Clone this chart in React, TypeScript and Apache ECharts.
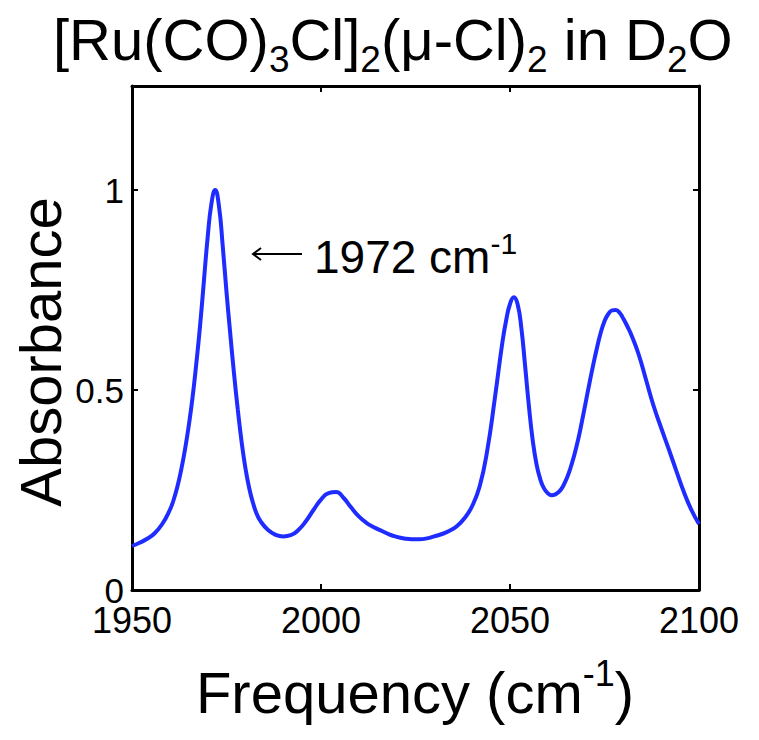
import React, { useEffect, useRef } from "react";
import * as echarts from "echarts";

// IR spectrum of the ruthenium carbonyl dimer in heavy water
const frequency = [
  1950, 1952, 1954, 1956, 1958, 1960, 1961, 1962, 1963, 1964, 1965, 1966, 1967, 1968, 1969, 1970, 1971,
  1972, 1973, 1974, 1975, 1976, 1977, 1978, 1979, 1980, 1981, 1982, 1983, 1984, 1986, 1988, 1990, 1992,
  1994, 1996, 1998, 2000, 2002, 2004, 2006, 2008, 2010, 2012, 2014, 2016, 2018, 2020, 2022, 2024, 2026,
  2028, 2030, 2032, 2034, 2036, 2038, 2040, 2042, 2044, 2046, 2048, 2049, 2050, 2051, 2052, 2053, 2054,
  2055, 2056, 2057, 2058, 2059, 2060, 2061, 2062, 2063, 2064, 2065, 2066, 2067, 2068, 2069, 2070, 2071,
  2072, 2073, 2074, 2075, 2076, 2077, 2078, 2079, 2080, 2081, 2082, 2084, 2086, 2088, 2090, 2092, 2094,
  2096, 2098, 2100,
];
const absorbance = [
  0.11, 0.118, 0.128, 0.142, 0.165, 0.2, 0.225, 0.258, 0.3, 0.35, 0.41, 0.48, 0.565, 0.66, 0.77, 0.88,
  0.965, 1.0, 0.96, 0.86, 0.745, 0.64, 0.54, 0.45, 0.37, 0.305, 0.255, 0.218, 0.19, 0.172, 0.15, 0.138,
  0.134, 0.137, 0.15, 0.172, 0.2, 0.226, 0.242, 0.245, 0.23, 0.206, 0.184, 0.168, 0.157, 0.148, 0.139,
  0.133, 0.129, 0.127, 0.127, 0.129, 0.134, 0.14, 0.148, 0.16, 0.18, 0.21, 0.26, 0.35, 0.48, 0.62, 0.675,
  0.715, 0.732, 0.715, 0.655, 0.56, 0.46, 0.375, 0.315, 0.277, 0.254, 0.242, 0.237, 0.239, 0.246, 0.259,
  0.279, 0.305, 0.337, 0.375, 0.42, 0.468, 0.516, 0.562, 0.605, 0.643, 0.672, 0.69, 0.699, 0.7, 0.693,
  0.678, 0.66, 0.64, 0.59, 0.525, 0.46, 0.405, 0.352, 0.298, 0.245, 0.2, 0.165,
];
const yTickValues = [0, 0.5, 1];
const peakLabel = "1972";

const FONT = "'Liberation Sans', Arial, Helvetica, sans-serif";

export default function App() {
  const ref = useRef<HTMLDivElement>(null);

  useEffect(() => {
    if (!ref.current) return;
    const chart = echarts.init(ref.current, null, { renderer: "svg" });

    const axisLine = { show: true, onZero: false, lineStyle: { color: "#000", width: 3 } };
    const axisTick = { show: true, inside: true, length: 6, lineStyle: { color: "#000", width: 2 } };

    const option = {
      animation: false,
      backgroundColor: "#fff",
      grid: { left: 132, right: 60, top: 86, bottom: 150, containLabel: false },
      xAxis: [
        {
          type: "value",
          position: "bottom",
          min: 1950,
          max: 2100,
          interval: 50,
          axisLine,
          axisTick,
          splitLine: { show: false },
          axisLabel: {
            color: "#000",
            fontSize: 36,
            fontFamily: FONT,
            margin: 12,
            formatter: (v: number) => String(v),
          },
        },
        {
          type: "value",
          position: "top",
          min: 1950,
          max: 2100,
          interval: 50,
          axisLine,
          axisTick,
          splitLine: { show: false },
          axisLabel: { show: false },
        },
      ],
      yAxis: [
        {
          type: "value",
          position: "left",
          min: 0,
          max: 1.26,
          interval: 0.5,
          axisLine,
          axisTick,
          splitLine: { show: false },
          axisLabel: {
            color: "#000",
            fontSize: 35,
            fontFamily: FONT,
            margin: 8,
            showMaxLabel: false,
            formatter: (v: number) => (yTickValues.includes(v) ? String(v) : ""),
          },
        },
        {
          type: "value",
          position: "right",
          min: 0,
          max: 1.26,
          interval: 0.5,
          axisLine,
          axisTick,
          splitLine: { show: false },
          axisLabel: { show: false },
        },
      ],
      series: [
        {
          type: "line",
          xAxisIndex: 0,
          yAxisIndex: 0,
          data: frequency.map((f, i) => [f, absorbance[i]]),
          showSymbol: false,
          smooth: 0.5,
          lineStyle: { color: "#1f2cff", width: 4 },
          itemStyle: { color: "#1f2cff" },
        },
      ],
      graphic: [
        {
          type: "text",
          silent: true,
          style: {
            x: 53,
            y: 39,
            align: "left",
            verticalAlign: "middle",
            text: "{n|[Ru(CO)}{s|3}{n|Cl]}{s|2}{n|(μ-Cl)}{s|2}{n| in D}{s|2}{n|O}",
            fill: "#000",
            rich: {
              n: { fontSize: 58, fontFamily: FONT, fill: "#000" },
              s: { fontSize: 37, fontFamily: FONT, fill: "#000", padding: [41, 0, 0, 0] },
            },
          },
        },
        {
          type: "text",
          silent: true,
          x: 40,
          y: 352,
          rotation: Math.PI / 2,
          style: {
            x: 0,
            y: 0,
            text: "Absorbance",
            fontSize: 58,
            fontFamily: FONT,
            fill: "#000",
            align: "center",
            verticalAlign: "middle",
          },
        },
        {
          type: "text",
          silent: true,
          style: {
            x: 415,
            y: 692,
            align: "center",
            verticalAlign: "middle",
            text: "{n|Frequency (cm}{p|-1}{n|)}",
            rich: {
              n: { fontSize: 58, fontFamily: FONT, fill: "#000" },
              p: { fontSize: 36, fontFamily: FONT, fill: "#000", padding: [0, 0, 38, 0] },
            },
          },
        },
        {
          type: "text",
          silent: true,
          style: {
            x: 314,
            y: 257,
            align: "left",
            verticalAlign: "middle",
            text: `{n|${peakLabel} cm}{p|-1}`,
            rich: {
              n: { fontSize: 46, fontFamily: FONT, fill: "#000" },
              p: { fontSize: 30, fontFamily: FONT, fill: "#000", padding: [0, 0, 27, 0] },
            },
          },
        },
        {
          type: "line",
          silent: true,
          shape: { x1: 253, y1: 254, x2: 302, y2: 254 },
          style: { stroke: "#000", lineWidth: 2 },
        },
        {
          type: "polyline",
          silent: true,
          shape: { points: [[261, 248], [253, 254], [261, 260]] },
          style: { stroke: "#000", lineWidth: 2, fill: null },
        },
      ],
    };

    chart.setOption(option as any);
    return () => chart.dispose();
  }, []);

  return (
    <div
      ref={ref}
      style={{ position: "absolute", left: 0, top: 0, width: 759, height: 740, background: "#fff" }}
    />
  );
}
